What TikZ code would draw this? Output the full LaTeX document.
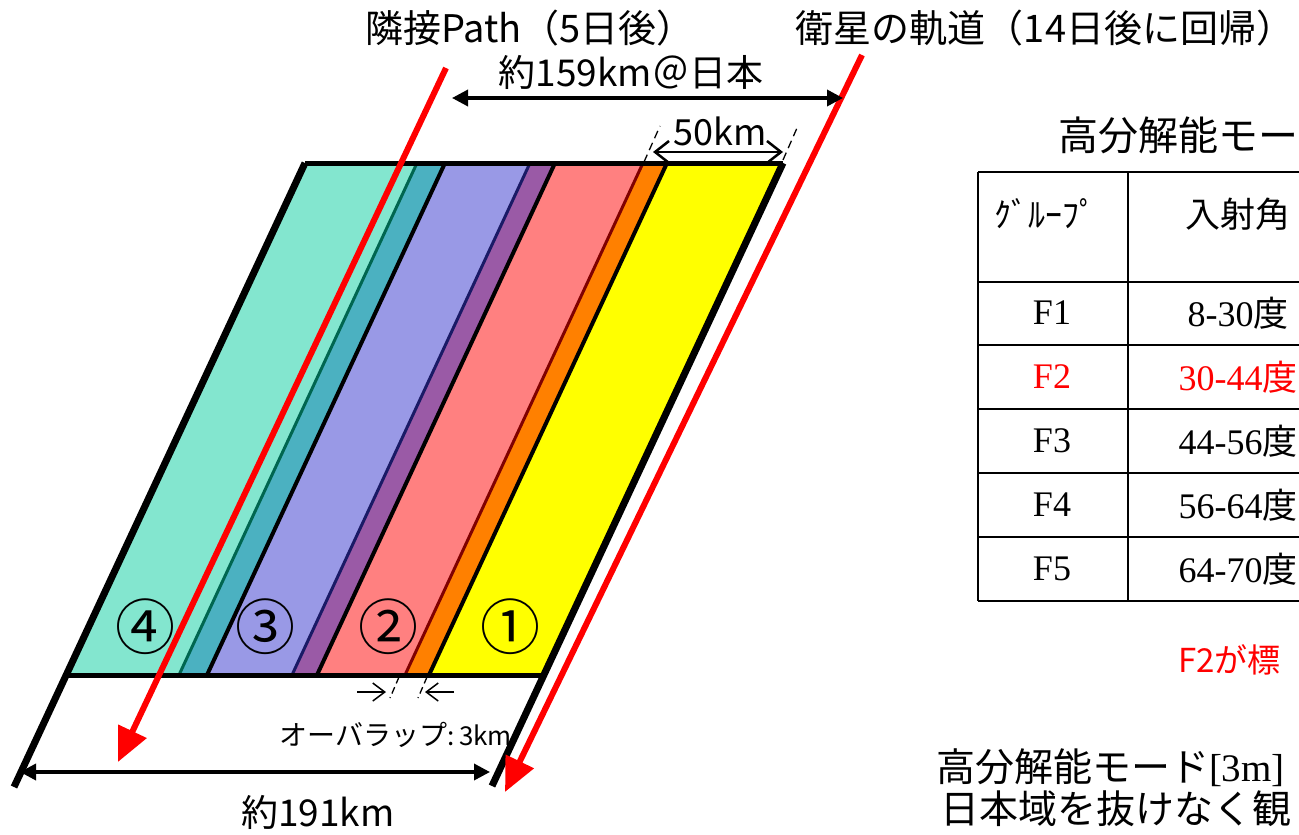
\documentclass[tikz,border=0pt]{standalone}
\usepackage{fontspec}
\setmainfont{Noto Sans CJK JP}
\newfontfamily\jpf{Noto Sans CJK JP}
\newfontfamily\tmsf{Liberation Serif}
\usetikzlibrary{arrows.meta}
\definecolor{aquaA}{HTML}{83E6CF}
\definecolor{aquaB}{HTML}{4BB1C1}
\definecolor{dkgreen}{HTML}{006650}
\definecolor{lavA}{HTML}{9999E6}
\definecolor{purpA}{HTML}{9A5AA6}
\definecolor{navyA}{HTML}{1A1A66}
\definecolor{salmonA}{HTML}{FF8080}
\definecolor{orangeA}{HTML}{FF8000}
\definecolor{dkredA}{HTML}{800000}
\definecolor{yellowA}{HTML}{FFFF00}
\definecolor{redA}{HTML}{FF0000}
\newcommand\fsz[1]{\fontsize{#1}{#1}\selectfont}
\tikzset{
  lbl/.style={inner sep=0pt, outer sep=0pt, anchor=center},
  redarrow/.style={draw=redA, line width=6pt, -{Triangle[length=34pt,width=30pt]}},
  dimarrow/.style={draw=black, line width=3.5pt, {Triangle[length=16pt,width=16pt]}-{Triangle[length=16pt,width=16pt]}},
  openarrow/.style={draw=black, line width=2.5pt, {Straight Barb[length=14pt,width=22pt]}-{Straight Barb[length=14pt,width=22pt]}},
  smallarrow/.style={draw=black, line width=1.5pt, -{Straight Barb[length=12pt,width=18pt]}},
  tick/.style={draw=black, line width=1.3pt, dash pattern=on 8pt off 5pt},
  sepline/.style={draw=black, line width=4pt},
  outer/.style={draw=black, line width=7pt},
  tline/.style={draw=black, line width=2.5pt},
}
\begin{document}
\begin{tikzpicture}[x=1pt,y=-1pt]
\useasboundingbox (0,0) rectangle (1299,835);
\fill[white] (0,0) rectangle (1299,835);
\clip (0,0) rectangle (1299,835);

% strips
\fill[aquaA] (305,163) -- (445,163) -- (207,675) -- (67,675) -- cycle;
\fill[aquaB] (418,163) -- (445,163) -- (207,675) -- (180,675) -- cycle;
\draw[dkgreen, line width=3pt] (417,163) -- (179,675);
\fill[lavA] (445,163) -- (555,163) -- (317,675) -- (207,675) -- cycle;
\fill[purpA] (531,163) -- (555,163) -- (317,675) -- (293,675) -- cycle;
\draw[navyA, line width=3pt] (530,163) -- (292,675);
\fill[salmonA] (555,163) -- (667,163) -- (429,675) -- (317,675) -- cycle;
\fill[orangeA] (644,163) -- (667,163) -- (429,675) -- (406,675) -- cycle;
\draw[dkredA, line width=3pt] (643,163) -- (405,675);
\fill[yellowA] (667,163) -- (783,163) -- (545,675) -- (429,675) -- cycle;
\draw[sepline] (445,163) -- (207,675);
\draw[sepline] (555,163) -- (317,675);
\draw[sepline] (667,163) -- (429,675);
\draw[black, line width=5pt] (305,163) -- (783,163);
\draw[black, line width=5pt] (67,675) -- (545,675);
\coordinate (ltop) at (305,163);
\coordinate (lbot) at (14,787);
\coordinate (rtop) at (783,163);
\coordinate (rbot) at (492,786);
\draw[outer] (ltop) -- (lbot);
\draw[outer] (rtop) -- (rbot);

% circled numbers
\node[lbl] (n4) at (145,627) {\fsz{60}④};
\node[lbl] (n3) at (265,627) {\fsz{60}③};
\node[lbl] (n2) at (388,627) {\fsz{60}②};
\node[lbl] (n1) at (510,627) {\fsz{60}①};

% red arrows
\coordinate (pa) at (446,68);
\coordinate (pb) at (118,762);
\coordinate (oa) at (862,55);
\coordinate (ob) at (505,792);
\draw[redarrow] (pa) -- (pb);
\draw[redarrow] (oa) -- (ob);

% top labels
\node[lbl] (tpath) at (530,28) {\fsz{38}隣接Path（5日後）};
\node[lbl] (torbit) at (1045,28) {\fsz{38}衛星の軌道（14日後に回帰）};

% 159 km
\coordinate (d1a) at (452,98);
\coordinate (d1b) at (843,98);
\draw[dimarrow] (d1a) -- (d1b);
\node[lbl] (t159) at (631,72) {\fsz{37}約159km＠日本};

% 50 km
\coordinate (d2a) at (653,152);
\coordinate (d2b) at (783,152);
\draw[openarrow] (d2a) -- (d2b);
\node[lbl] (t50) at (720,131) {\fsz{36}50km};
\coordinate (k1a) at (644,162);
\coordinate (k1b) at (660,126);
\coordinate (k2a) at (783,160);
\coordinate (k2b) at (797,128);
\draw[tick] (k1a) -- (k1b);
\draw[tick] (k2a) -- (k2b);

% overlap
\coordinate (o1a) at (357,692);
\coordinate (o1b) at (386,692);
\coordinate (o2a) at (454,692);
\coordinate (o2b) at (425,692);
\draw[smallarrow] (o1a) -- (o1b);
\draw[smallarrow] (o2a) -- (o2b);
\coordinate (q1a) at (399,677);
\coordinate (q1b) at (390,698);
\coordinate (q2a) at (427,677);
\coordinate (q2b) at (418,698);
\draw[tick, dash pattern=on 7pt off 4pt] (q1a) -- (q1b);
\draw[tick, dash pattern=on 7pt off 4pt] (q2a) -- (q2b);
\node[lbl] (tover) at (396,735) {\fsz{28}オーバラップ\fsz{26}:\,3km};

% 191 km
\coordinate (d3a) at (20,772);
\coordinate (d3b) at (490,772);
\draw[dimarrow] (d3a) -- (d3b);
\node[lbl] (t191) at (318,812) {\fsz{37}約191km};

% table
\node[lbl, anchor=west] (ttitle) at (1058,135) {\fsz{40}高分解能モー};
\draw[tline] (978,172) -- (1310,172);
\draw[tline] (978,282) -- (1310,282);
\draw[tline] (978,345) -- (1310,345);
\draw[tline] (978,409) -- (1310,409);
\draw[tline] (978,473) -- (1310,473);
\draw[tline] (978,537) -- (1310,537);
\draw[tline] (978,601) -- (1310,601);
\draw[tline] (978,172) -- (978,601);
\draw[tline] (1128,172) -- (1128,601);
\node[lbl] (hg) at (1045,214) {\fsz{34}ｸﾞﾙｰﾌﾟ};
\node[lbl] (ha) at (1238,214) {\fsz{35}入射角};
\node[lbl] (f1) at (1052,313) {\fsz{36}\tmsf F1};
\node[lbl] (a1) at (1238,313) {\fsz{36}\tmsf 8-30\jpf\fsz{35}度};
\node[lbl, text=redA] (f2) at (1052,377) {\fsz{36}\tmsf F2};
\node[lbl, text=redA] (a2) at (1238,377) {\fsz{36}\tmsf 30-44\jpf\fsz{35}度};
\node[lbl] (f3) at (1052,441) {\fsz{36}\tmsf F3};
\node[lbl] (a3) at (1238,441) {\fsz{36}\tmsf 44-56\jpf\fsz{35}度};
\node[lbl] (f4) at (1052,505) {\fsz{36}\tmsf F4};
\node[lbl] (a4) at (1238,505) {\fsz{36}\tmsf 56-64\jpf\fsz{35}度};
\node[lbl] (f5) at (1052,569) {\fsz{36}\tmsf F5};
\node[lbl] (a5) at (1238,569) {\fsz{36}\tmsf 64-70\jpf\fsz{35}度};

\node[lbl, anchor=west, text=redA] (tstd) at (1178,660) {\fsz{33}F2が標};
\node[lbl, anchor=west] (tb1) at (936,768) {\fsz{39}高分解能モード\tmsf [3m]};
\node[lbl, anchor=west] (tb2) at (940,809) {\fsz{39}日本域を抜けなく観};
\end{tikzpicture}
\end{document}
